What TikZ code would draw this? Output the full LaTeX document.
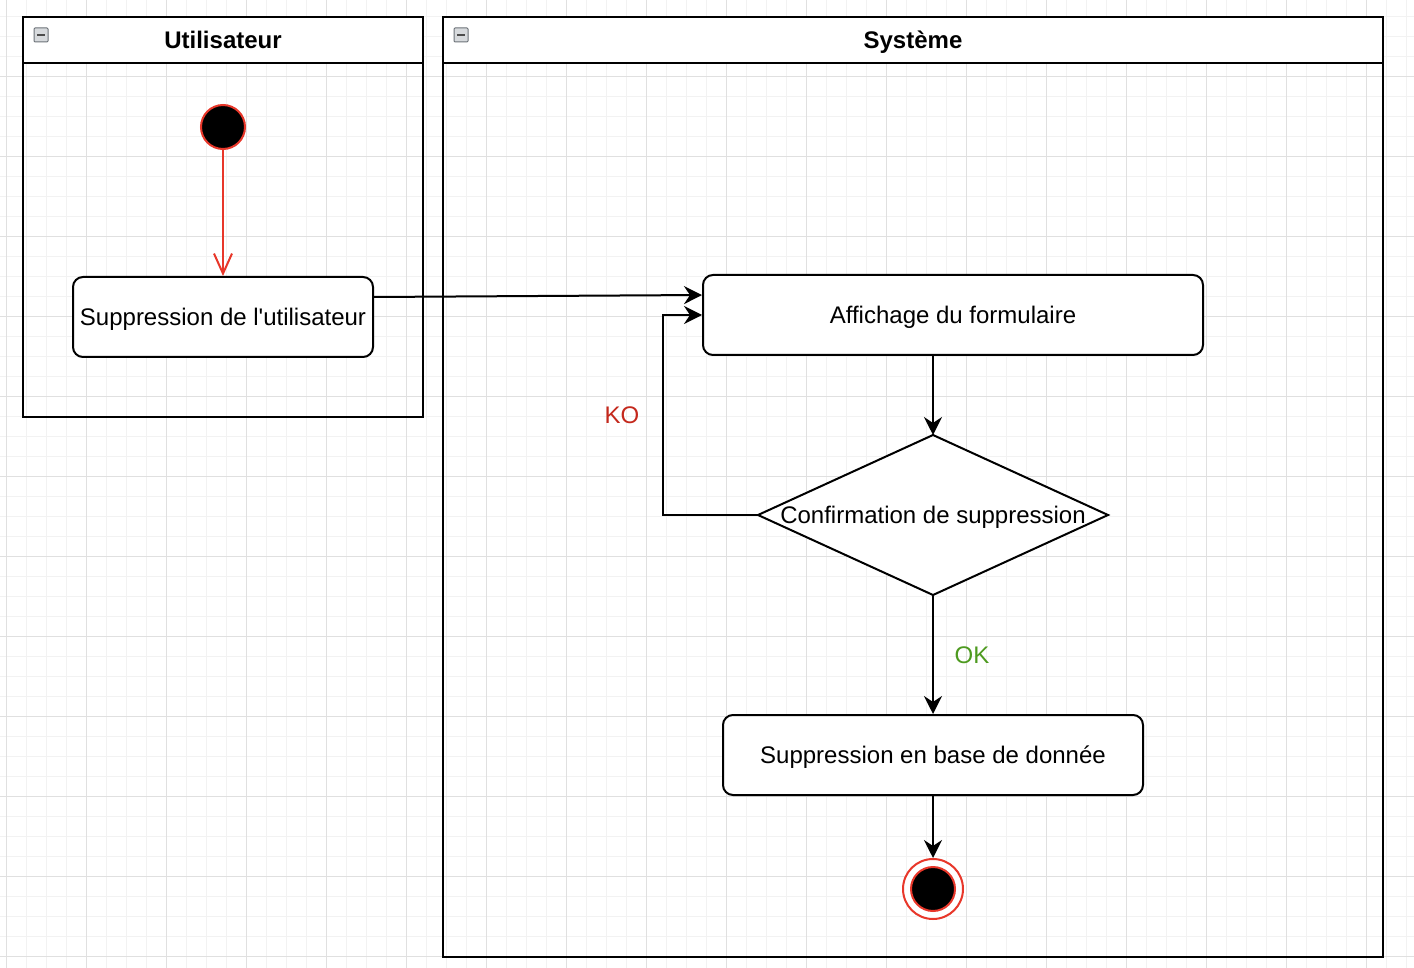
\documentclass[tikz,border=0pt]{standalone}
\usepackage{fontspec}
\setmainfont{Liberation Sans}
\newfontfamily\plainsans{Liberation Sans}
\usetikzlibrary{arrows.meta,shapes.geometric,calc}
\definecolor{minorg}{HTML}{F2F2F2}
\definecolor{majorg}{HTML}{E0E0E0}
\definecolor{startred}{HTML}{E8372A}
\definecolor{kored}{HTML}{C4281C}
\definecolor{okgreen}{HTML}{4D9A1F}
\definecolor{icongray}{HTML}{9AA3AB}
\tikzset{
  lane/.style={draw=black, line width=2pt, fill=none},
  txt/.style={font=\fontsize{24}{28}\selectfont, text height=21.7pt, text depth=5.1pt},
  actbox/.style={txt, draw=black, line width=2pt, rounded corners=10pt, fill=white, inner sep=0pt},
  flow/.style={draw=black, line width=2pt, -{Stealth[length=18pt,width=18pt,inset=6pt]}},
  redflow/.style={draw=startred, line width=2pt, -{Straight Barb[length=20pt,width=18pt,line width=2pt]}},
  lanetitle/.style={txt, font=\fontsize{24}{28}\selectfont\bfseries},
  lbl/.style={txt},
  laneicon/.style={draw=icongray!70!black, fill=icongray!40, line width=1pt, minimum size=14pt, inner sep=0pt, rounded corners=1pt},
}
\begin{document}
\begin{tikzpicture}[x=1pt,y=-1pt]
\useasboundingbox (0,0) rectangle (1414,968);
\fill[white] (0,0) rectangle (1414,968);
% grid
\foreach \x in {6.7,26.7,...,1414}{\draw[minorg,line width=1pt] (\x,0) -- (\x,968);}
\foreach \y in {16.7,36.7,...,968}{\draw[minorg,line width=1pt] (0,\y) -- (1414,\y);}
\foreach \x in {6.7,86.7,...,1414}{\draw[majorg,line width=1pt] (\x,0) -- (\x,968);}
\foreach \y in {-3.3,76.7,...,968}{\draw[majorg,line width=1pt] (0,\y) -- (1414,\y);}
% lanes
\fill[white] (23,17) rectangle (423,63);
\fill[white] (443,17) rectangle (1383,63);
\draw[lane] (23,17) rectangle (423,417);
\draw[lane] (23,63) -- (423,63);
\node[lanetitle] (tU) at (223,40) {Utilisateur};
\node[laneicon] (iU) at (41,35) {};
\draw[black!70,line width=1.5pt] ($(iU)+(-4,0)$) -- ($(iU)+(4,0)$);
\draw[lane] (443,17) rectangle (1383,957);
\draw[lane] (443,63) -- (1383,63);
\node[lanetitle] (tS) at (913,40) {Système};
\node[laneicon] (iS) at (461,35) {};
\draw[black!70,line width=1.5pt] ($(iS)+(-4,0)$) -- ($(iS)+(4,0)$);
% nodes
\node[circle, fill=black, draw=startred, line width=2pt, minimum size=44pt, inner sep=0pt] (start) at (223,127) {};
\node[actbox, minimum width=300pt, minimum height=80pt] (supu) at (223,317) {Suppression de l{\plainsans\char"0027}utilisateur};
\node[actbox, minimum width=500pt, minimum height=80pt] (aff) at (953,315) {Affichage du formulaire};
\coordinate (dtop) at (933,435);
\coordinate (dleft) at (758,515);
\coordinate (dright) at (1108,515);
\coordinate (dbot) at (933,595);
\draw[line width=2pt, fill=white] (dtop) -- (dright) -- (dbot) -- (dleft) -- cycle;
\node[lbl] (conf) at (933,515) {Confirmation de suppression};
\node[actbox, minimum width=420pt, minimum height=80pt] (supb) at (933,755) {Suppression en base de donnée};
\node[circle, draw=startred, fill=white, line width=2pt, minimum size=60pt, inner sep=0pt] (endo) at (933,889) {};
\node[circle, draw=startred, fill=black, line width=2pt, minimum size=44pt, inner sep=0pt] (endi) at (933,889) {};
% labels
\node[lbl, text=kored] (ko) at (622,415) {KO};
\node[lbl, text=okgreen] (ok) at (972,655) {OK};
% edges
\draw[redflow] (start) -- (supu);
\draw[flow] ([yshift=20pt]supu.east) -- ([yshift=20pt]aff.west);
\draw[flow] (aff.south -| dtop) -- (dtop);
\draw[flow] (dleft) -- ++(-95,0) |- (aff.west);
\draw[flow] (dbot) -- (supb.north -| dbot);
\draw[flow] (supb.south -| endo) -- (endo.north);
\end{tikzpicture}
\end{document}
